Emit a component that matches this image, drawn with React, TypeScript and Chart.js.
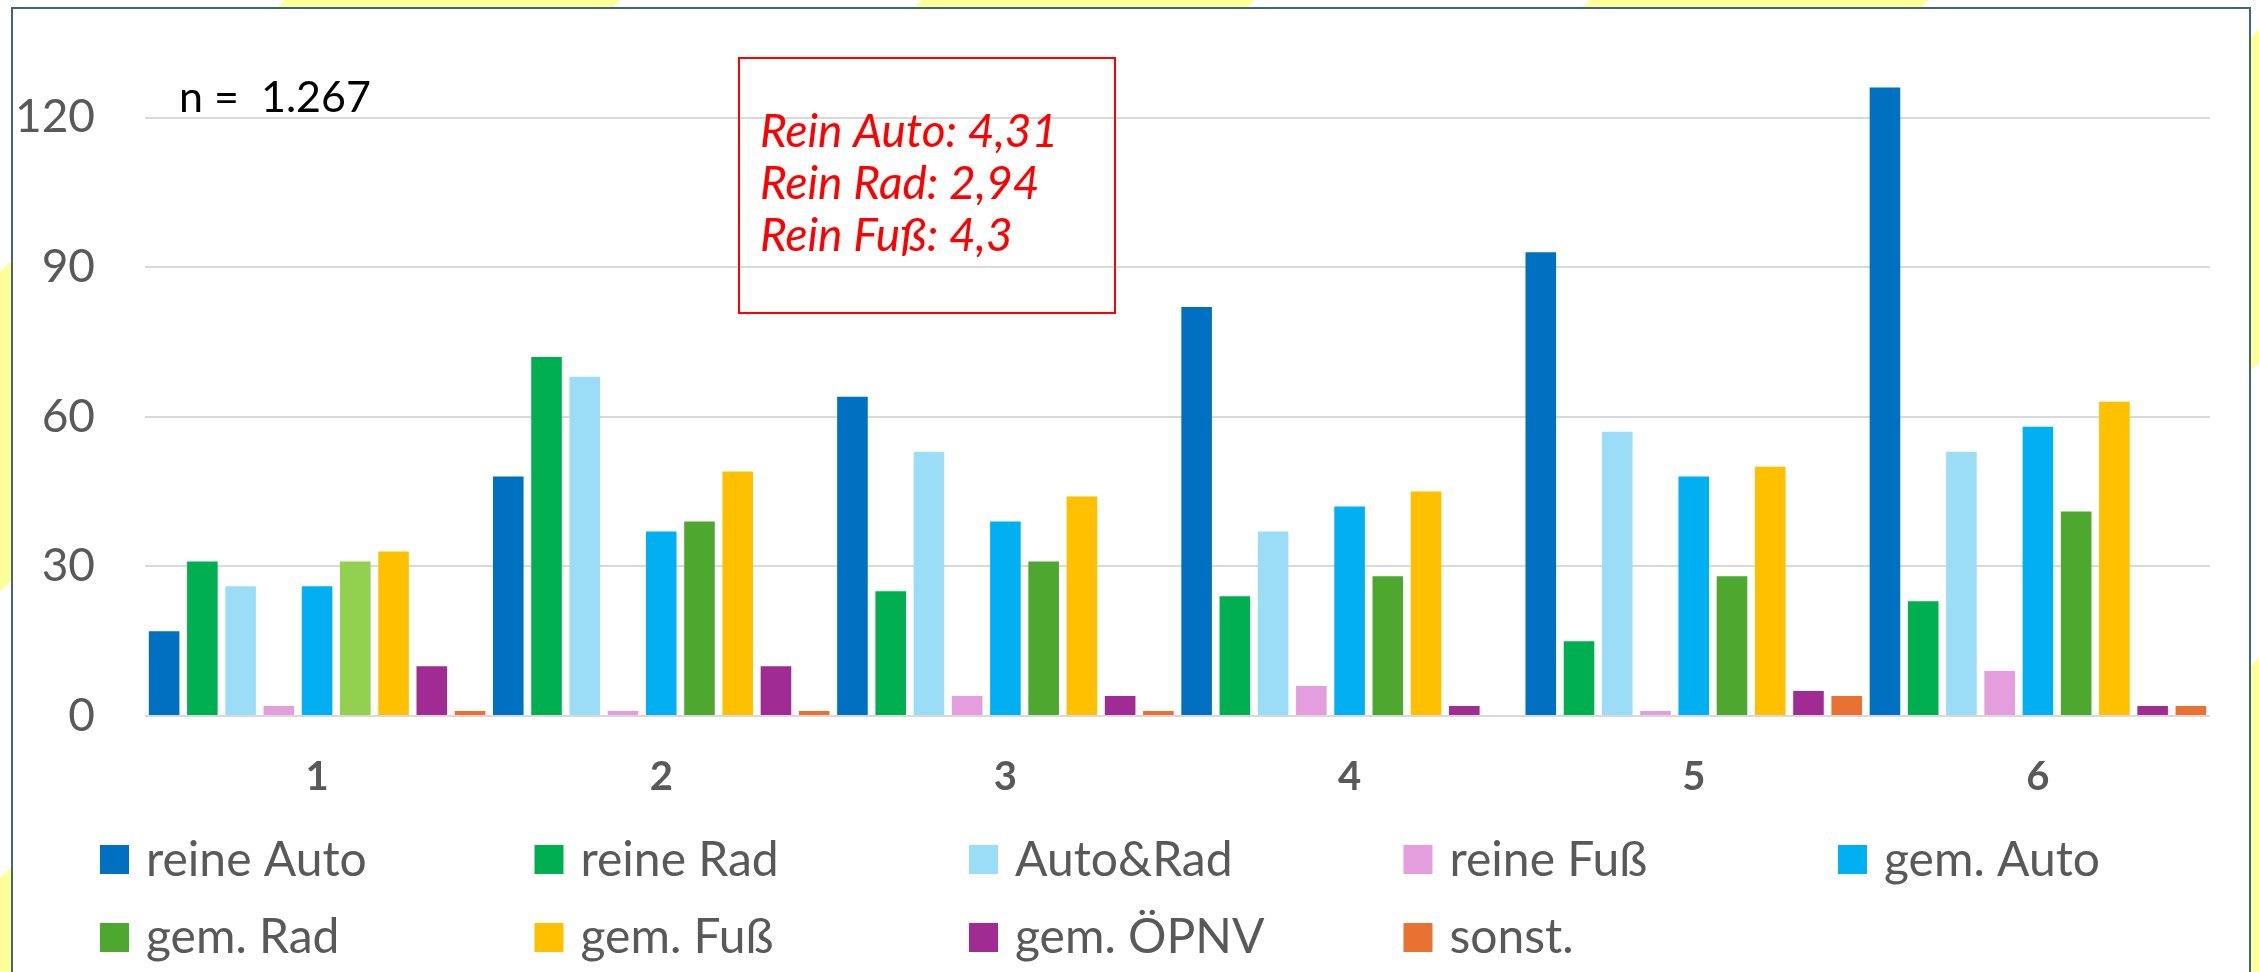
import React, { useEffect, useRef } from 'react';
import { Chart, registerables } from 'chart.js';

Chart.register(...registerables);

// ---------- data ----------
const categories = ['1', '2', '3', '4', '5', '6'];
const seriesLabels = ['reine Auto', 'reine Rad', 'Auto&Rad', 'reine Fuß', 'gem. Auto', 'gem. Rad', 'gem. Fuß', 'gem. ÖPNV', 'sonst.'];
const reineAuto = [17, 48, 64, 82, 93, 126];
const reineRad = [31, 72, 25, 24, 15, 23];
const autoUndRad = [26, 68, 53, 37, 57, 53];
const reineFuss = [2, 1, 4, 6, 1, 9];
const gemAuto = [26, 37, 39, 42, 48, 58];
const gemRad = [31, 39, 31, 28, 28, 41];
const gemFuss = [33, 49, 44, 45, 50, 63];
const gemOepnv = [10, 10, 4, 2, 5, 2];
const sonst = [1, 1, 1, 0, 4, 2];
const seriesValues = [reineAuto, reineRad, autoUndRad, reineFuss, gemAuto, gemRad, gemFuss, gemOepnv, sonst];
const seriesColors = ['#0070C0', '#00B050', '#9BDCF7', '#E49EDD', '#00B0F0', '#4EA72E', '#FFC000', '#A02B93', '#E97132'];
const gemRadFirstGroupColor = '#92D050';
const yTickValues = [0, 30, 60, 90, 120];
const yMax = 128;
const sampleNote = 'n =  1.267';
const boxLines = ['Rein Auto: 4,31', 'Rein Rad: 2,94', 'Rein Fuß: 4,3'];

// ---------- background stripes (decoration) ----------
const stripeStarts = [[285, 621], [922, 1255], [1590, 1929], [2290, 2640], [2950, 3290]];

const W = 2259;
const H = 972;

const legendPlugin = {
  id: 'gridLegend',
  afterDraw(chart: any) {
    const ctx = chart.ctx;
    ctx.save();
    ctx.font = '48px Lato';
    ctx.textBaseline = 'alphabetic';
    ctx.textAlign = 'left';
    chart.data.datasets.forEach((ds: any, i: number) => {
      const row = i < 5 ? 0 : 1;
      const col = row ? i - 5 : i;
      const x = 100 + col * 434.5;
      const top = row ? 923 : 845;
      ctx.fillStyle = seriesColors[i];
      ctx.fillRect(x, top, 29, 29);
      ctx.fillStyle = '#595959';
      ctx.fillText(ds.label, x + 46, row ? 953 : 876);
    });
    ctx.restore();
  },
};

const notePlugin = {
  id: 'notes',
  afterDraw(chart: any) {
    const ctx = chart.ctx;
    ctx.save();
    ctx.textBaseline = 'alphabetic';
    ctx.textAlign = 'left';
    ctx.font = '43px Lato';
    ctx.fillStyle = '#000000';
    ctx.fillText(sampleNote, 179, 112);
    ctx.strokeStyle = '#FF0000';
    ctx.lineWidth = 2;
    ctx.strokeRect(739, 58, 376, 255);
    ctx.font = 'italic 46px Lato';
    ctx.fillStyle = '#FF0000';
    boxLines.forEach((t, i) => ctx.fillText(t, 760, 147 + i * 52));
    ctx.restore();
  },
};

export default function App() {
  const ref = useRef<HTMLCanvasElement | null>(null);

  useEffect(() => {
    if (!ref.current) return;
    const datasets = seriesLabels.map((label, i) => ({
      label,
      data: seriesValues[i],
      backgroundColor: i === 5 ? seriesValues[i].map((_, j) => (j === 0 ? gemRadFirstGroupColor : seriesColors[i])) : seriesColors[i],
      borderWidth: 0,
      categoryPercentage: 1.0,
      barPercentage: 0.8,
    }));
    const chart = new Chart(ref.current, {
      type: 'bar',
      data: { labels: categories, datasets },
      options: {
        animation: false,
        responsive: false,
        maintainAspectRatio: false,
        layout: { padding: { top: 40, right: 49, bottom: 0, left: 0 } },
        plugins: { legend: { display: false }, tooltip: { enabled: false } },
        scales: {
          x: {
            grid: { display: false, drawTicks: false },
            border: { display: false },
            ticks: { font: { family: 'Lato', size: 40, weight: 'bold' }, color: '#595959', padding: 37 },
            afterFit: (s: any) => { s.height = H - 716; },
          },
          y: {
            min: 0,
            max: yMax,
            ticks: { stepSize: 30, font: { family: 'Lato', size: 46 }, color: '#595959', padding: 50 },
            afterBuildTicks: (s: any) => { s.ticks = yTickValues.map((v) => ({ value: v })); },
            grid: { color: '#D9D9D9', lineWidth: 2, drawTicks: false },
            border: { display: false },
            afterFit: (s: any) => { s.width = 145; },
          },
        },
      },
      plugins: [legendPlugin, notePlugin],
    });
    return () => chart.destroy();
  }, []);

  return (
    <div style={{ position: 'absolute', left: 0, top: 0, width: W, height: H, overflow: 'hidden', background: '#FFFFFF' }}>
      {stripeStarts.map(([a, b], i) => (
        <div
          key={i}
          style={{
            position: 'absolute', left: 0, top: 0, width: W, height: H, background: '#FFFF9A',
            clipPath: `polygon(${a}px 0px, ${b}px 0px, ${b - 1.05 * H}px ${H}px, ${a - 1.05 * H}px ${H}px)`,
          }}
        />
      ))}
      <div style={{ position: 'absolute', left: 11, top: 7, width: 2240, height: 1000, boxSizing: 'border-box', border: '2px solid #41657A', background: '#FFFFFF' }} />
      <canvas ref={ref} width={W} height={H} style={{ position: 'absolute', left: 0, top: 0, width: W, height: H, display: 'block' }} />
    </div>
  );
}
